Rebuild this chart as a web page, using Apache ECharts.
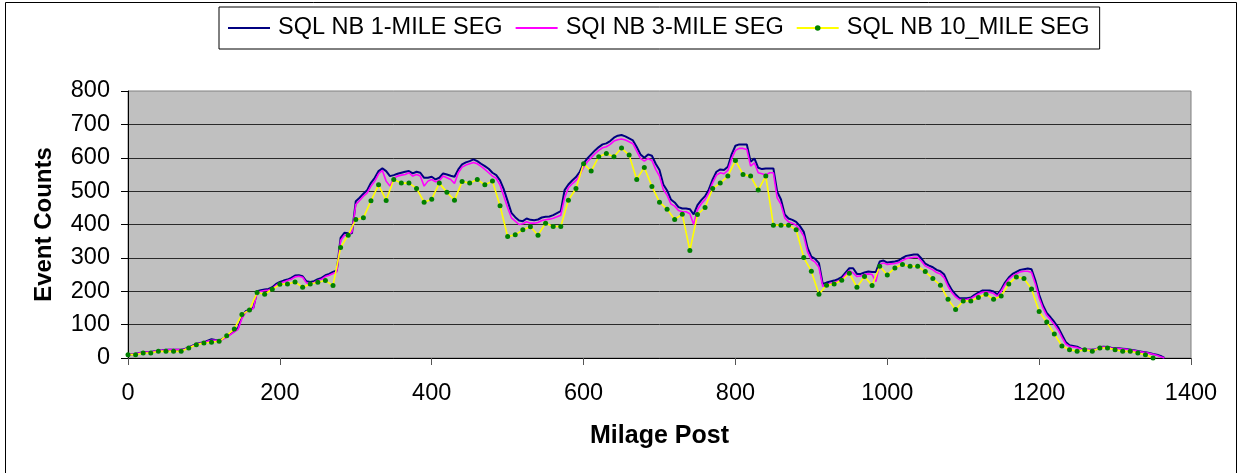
<!DOCTYPE html>
<html>
<head>
<meta charset="utf-8">
<script src="https://cdn.jsdelivr.net/npm/echarts@6/dist/echarts.min.js"></script>
<style>
html,body{margin:0;padding:0;background:#fff;}
#chart{width:1239px;height:473px;}
</style>
</head>
<body>
<div id="chart"></div>
<script>
// ---- Data ----
const seriesNames = ['SQL NB 1-MILE SEG', 'SQI NB 3-MILE SEG', 'SQL NB 10_MILE SEG'];
const xTicks = [0, 200, 400, 600, 800, 1000, 1200, 1400];
const yTicks = [0, 100, 200, 300, 400, 500, 600, 700, 800];

// mile-post spacing of the sampled values
const fineStep = 5;    // 1-mile and 3-mile series sampled every 5 miles
const coarseStep = 10; // 10-mile series: one point every 10 miles

// SQL NB 1-MILE SEG (mile 0 .. 1365)
const oneMile = [
  10,11,12,15,17,18,18,20,22,23,25,25,25,25,25,27,32,37,42,45,
  47,52,56,54,52,58,65,72,80,90,125,140,145,150,200,203,205,207,212,222,
  228,232,235,240,247,248,245,230,228,230,236,240,248,252,258,262,360,375,374,374,
  470,480,492,503,525,540,560,568,560,545,548,552,555,558,560,553,558,555,540,540,
  543,535,540,553,550,546,543,565,580,586,590,595,590,582,575,567,555,548,532,505,
  470,435,422,412,410,418,414,413,415,421,423,424,428,434,440,503,520,532,542,558,
  583,598,610,622,632,640,643,650,660,666,668,664,658,652,632,610,600,610,606,582,
  563,520,502,475,466,452,448,448,446,430,458,473,485,505,535,558,565,563,573,610,
  636,640,640,640,588,598,570,566,568,568,568,498,475,430,418,414,408,395,378,330,
  304,297,284,222,226,229,232,236,242,256,269,269,252,252,256,259,258,258,289,292,
  286,288,289,292,300,306,308,310,310,298,283,277,272,264,260,250,224,204,190,179,
  179,179,181,189,196,202,202,202,199,190,205,226,241,252,258,264,266,268,266,233,
  190,158,135,122,108,92,70,48,38,36,34,28,25,25,25,26,33,34,33,31,
  30,29,28,27,25,23,21,19,17,15,12,10,6,0
];

// SQI NB 3-MILE SEG (mile 0 .. 1365)
const threeMile = [
  10,11,12,15,17,18,18,20,22,23,24,25,25,25,25,26,31,36,41,44,
  46,50,53,53,51,56,63,70,78,86,118,137,143,148,196,200,202,204,208,218,
  224,228,232,236,243,245,242,225,224,226,232,236,244,248,253,258,352,368,368,378,
  460,472,485,495,515,530,552,562,530,515,538,545,548,550,555,545,550,545,515,530,
  535,528,532,545,540,535,523,555,572,578,582,586,582,574,565,555,545,538,518,485,
  450,420,410,400,402,408,404,404,406,412,414,416,419,423,428,480,510,522,532,548,
  572,588,600,612,622,630,633,640,650,654,656,653,648,642,620,598,590,598,592,565,
  545,505,488,462,455,442,438,438,432,400,445,462,475,495,525,548,555,552,562,598,
  622,628,628,625,575,585,555,552,548,555,555,480,460,420,408,404,398,384,365,318,
  295,287,272,215,220,224,226,230,236,250,262,255,244,246,250,252,250,229,280,285,
  280,282,283,286,292,298,300,302,302,290,276,270,264,256,252,240,215,196,183,175,
  175,176,178,185,192,197,198,197,193,185,200,220,236,246,252,258,260,260,256,222,
  180,150,128,115,100,84,62,42,35,33,31,27,25,25,25,26,32,33,32,30,
  29,28,27,26,24,22,20,18,16,14,11,8,4,0
];

// SQL NB 10_MILE SEG (mile 0 .. 1350)
const tenMile = [
  10,10,15,15,20,20,20,20,30,40,
  45,47,50,67,87,130,144,196,191,206,
  221,222,228,212,222,227,232,217,331,368,
  415,420,471,519,472,535,524,524,508,467,
  476,524,497,473,529,524,535,519,530,456,
  364,369,384,393,368,404,394,394,473,508,
  582,560,603,613,603,629,608,535,571,514,
  467,446,415,431,322,430,451,508,524,545,
  592,550,545,503,545,398,398,398,384,301,
  260,191,218,222,233,254,212,244,217,275,
  249,270,280,275,275,259,238,218,176,145,
  171,171,181,191,176,186,222,243,238,207,
  139,108,72,36,25,20,25,20,30,30,
  25,20,20,15,10,0
];

function toPairs(values, step) {
  return values.map((v, i) => [i * step, v]);
}

const FONT = "'Liberation Sans', Arial, Helvetica, sans-serif";

const chart = echarts.init(document.getElementById('chart'), null, {renderer: 'canvas'});
chart.setOption({
  animation: false,
  backgroundColor: '#ffffff',
  graphic: [{
    type: 'rect',
    shape: {x: 5.5, y: 2.5, width: 1231, height: 480},
    style: {fill: 'none', stroke: '#000', lineWidth: 1},
    silent: true,
    z: -1
  }],
  legend: {
    left: 219,
    top: 7,
    padding: [9, 10, 9, 8],
    backgroundColor: '#fff',
    borderColor: '#000',
    borderWidth: 1,
    borderRadius: 0,
    itemWidth: 42,
    itemHeight: 7,
    itemGap: 12,
    textStyle: {fontFamily: FONT, fontSize: 23.5, color: '#000', lineHeight: 24, padding: [0, 0, 0, 3]},
    data: [
      {name: seriesNames[0], itemStyle: {opacity: 0}},
      {name: seriesNames[1], itemStyle: {opacity: 0}},
      {name: seriesNames[2]}
    ]
  },
  grid: {
    left: 128, right: 48, top: 91, bottom: 115,
    show: true,
    backgroundColor: '#C0C0C0',
    borderColor: '#808080',
    borderWidth: 1
  },
  xAxis: {
    type: 'value',
    min: xTicks[0], max: xTicks[xTicks.length - 1], interval: 200,
    name: 'Milage Post',
    nameLocation: 'middle',
    nameGap: 66,
    nameTextStyle: {fontFamily: FONT, fontSize: 25, fontWeight: 'bold', color: '#000'},
    axisLine: {show: true, lineStyle: {color: '#000', width: 1}},
    axisTick: {show: true, length: 7, lineStyle: {color: '#555'}},
    axisLabel: {fontFamily: FONT, fontSize: 23.5, color: '#000', margin: 24, formatter: v => String(v)},
    splitLine: {show: false}
  },
  yAxis: {
    type: 'value',
    min: yTicks[0], max: yTicks[yTicks.length - 1], interval: 100,
    name: 'Event Counts',
    nameLocation: 'middle',
    nameGap: 72,
    nameTextStyle: {fontFamily: FONT, fontSize: 24, fontWeight: 'bold', color: '#000'},
    axisLine: {show: true, lineStyle: {color: '#000', width: 1}},
    axisTick: {show: true, length: 7, lineStyle: {color: '#000'}},
    axisLabel: {fontFamily: FONT, fontSize: 23.5, color: '#000', margin: 18, formatter: v => String(v)},
    splitLine: {show: true, showMaxLine: false, lineStyle: {color: '#2a2a2a', width: 1}}
  },
  series: [
    {
      name: seriesNames[0],
      type: 'line',
      data: toPairs(oneMile, fineStep),
      symbol: 'none',
      lineStyle: {color: '#000080', width: 2},
      itemStyle: {color: '#000080'},
      z: 2
    },
    {
      name: seriesNames[1],
      type: 'line',
      data: toPairs(threeMile, fineStep),
      symbol: 'none',
      lineStyle: {color: '#FF00FF', width: 1.6},
      itemStyle: {color: '#FF00FF'},
      z: 3
    },
    {
      name: seriesNames[2],
      type: 'line',
      data: toPairs(tenMile, coarseStep),
      symbol: 'circle',
      symbolSize: 5,
      showSymbol: true,
      lineStyle: {color: '#FFFF00', width: 1.6},
      itemStyle: {color: '#008000', borderWidth: 0},
      z: 4
    }
  ]
});
</script>
</body>
</html>
